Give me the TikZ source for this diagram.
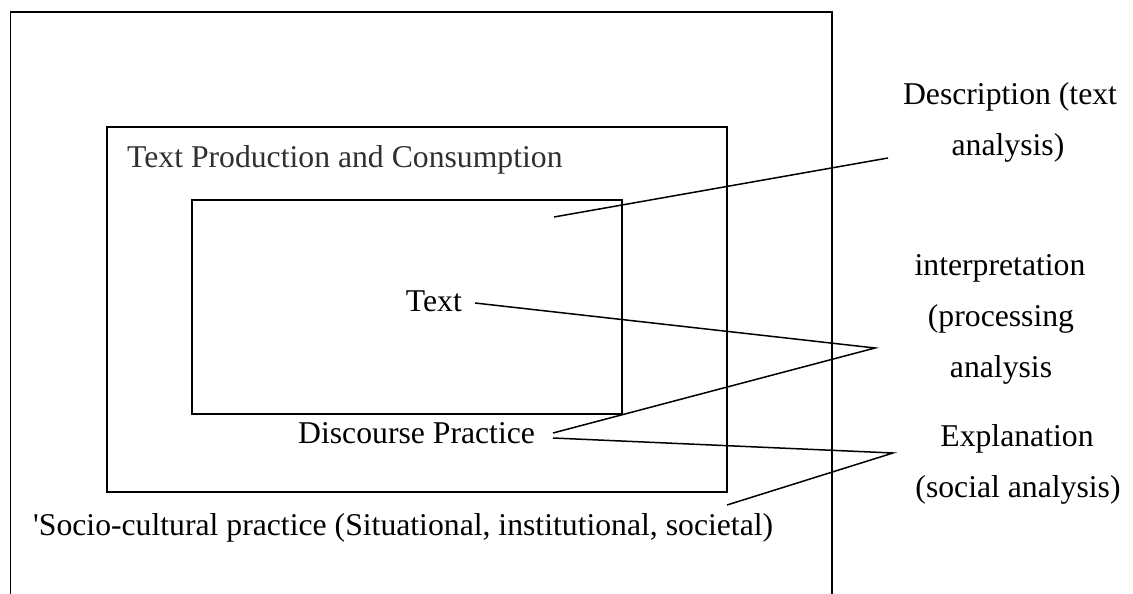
\documentclass[tikz,border=0pt]{standalone}
\usepackage{fontspec}
\setmainfont{Liberation Serif}[Ligatures=TeXOff]
\definecolor{labgray}{HTML}{303030}
\begin{document}
\begin{tikzpicture}[x=1pt,y=-1pt,
  boxline/.style={line width=1.6pt},
  conn/.style={line width=1.5pt},
  lab/.style={inner sep=0pt,font=\fontsize{31.7}{38}\selectfont},
  side/.style={lab,anchor=base}]
\useasboundingbox (0,0) rectangle (1133,594);
% outer frame (open at bottom)
\draw[boxline] (10.5,594) -- (10.5,12) -- (832,12) -- (832,594);
% middle box
\draw[boxline] (107,127) rectangle (727,492);
% inner box
\draw[boxline] (192,200) rectangle (622,414);
% labels inside
\node[lab,anchor=base west,text=labgray] (tpc) at (127,167) {Text Production and Consumption};
\node[lab,anchor=base east] (txt) at (462,311) {Text};
\node[lab,anchor=base west] (dp) at (298,443) {Discourse Practice};
\node[lab,anchor=base west] (scp) at (33,535) {'Socio-cultural practice (Situational, institutional, societal)};
% side labels
\node[side] (desc1) at (1010,104) {Description (text};
\node[side] (desc2) at (1008,155) {analysis)};
\node[side] (int1) at (1000,275) {interpretation};
\node[side] (int2) at (1001,326) {(processing};
\node[side] (int3) at (1001,377) {analysis};
\node[side] (exp1) at (1017,446) {Explanation};
\node[side] (exp2) at (1018,497) {(social analysis)};
% connector end points
\coordinate (dstart) at (554,217);
\coordinate (dend) at (888,158);
\coordinate (tstart) at (475,303);
\coordinate (ivert) at (875,348);
\coordinate (dpa) at (553,433);
\coordinate (dpb) at (553,438);
\coordinate (evert) at (893,453);
\coordinate (send) at (727,505);
% connectors
\draw[conn] (dstart) -- (dend);
\draw[conn] (tstart) -- (ivert) -- (dpa);
\draw[conn] (dpb) -- (evert) -- (send);
\end{tikzpicture}
\end{document}
